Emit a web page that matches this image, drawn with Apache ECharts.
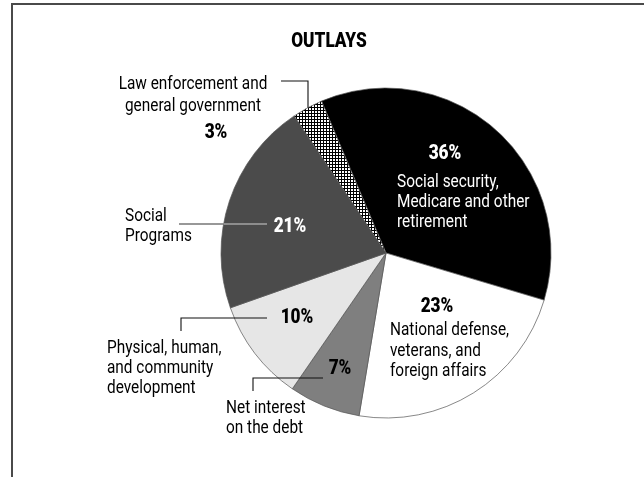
<!DOCTYPE html>
<html>
<head>
<meta charset="utf-8">
<title>Outlays</title>
<script src="https://cdn.jsdelivr.net/npm/echarts@6/dist/echarts.min.js"></script>
<style>
  html, body { margin: 0; padding: 0; background: #fff; }
  #chart { width: 644px; height: 477px; }
</style>
</head>
<body>
<div id="chart"></div>
<script>
// Budget outlays by function, share of total (percent)
const categories = [
  'Social security,\nMedicare and other\nretirement',
  'National defense,\nveterans, and\nforeign affairs',
  'Net interest\non the debt',
  'Physical, human,\nand community\ndevelopment',
  'Social\nPrograms',
  'Law enforcement and\ngeneral government'
];
const shares = [36, 23, 7, 10, 21, 3];
const title = 'OUTLAYS';

const FONT = "Roboto, 'Liberation Sans', sans-serif";
const NARROW = 0.81;      // horizontal squeeze for body text (condensed look)
const NARROW_BOLD = 0.86; // horizontal squeeze for heavy figures

// dotted fill for the small slice
function dotPattern() {
  const c = document.createElement('canvas');
  c.width = 3; c.height = 3;
  const g = c.getContext('2d');
  g.fillStyle = '#000';
  g.fillRect(0, 0, 3, 3);
  g.fillStyle = '#fff';
  g.fillRect(0, 0, 2, 2);
  return c;
}

const fills = ['#000000', '#ffffff', '#7f7f7f', '#e6e6e6', '#4b4b4b', { image: dotPattern(), repeat: 'repeat' }];
const pctColors = ['#fff', '#000', '#000', '#000', '#fff', '#000'];

// layout of the annotations
const CX = 386, CY = 253, R = 165;
const pctPos = [[445, 154], [437, 307], [340, 369], [297, 318], [290, 227], [216, 133]];
const nameBox = [
  { x: 397, y: 172, align: 'left', fill: '#fff', lh: 20 },
  { x: 390, y: 320, align: 'left', fill: '#000', lh: 20.5 },
  { x: 226, y: 398, align: 'left', fill: '#000', lh: 20 },
  { x: 107, y: 338, align: 'left', fill: '#000', lh: 20 },
  { x: 125, y: 206, align: 'left', fill: '#000', lh: 20 },
  { x: 193, y: 73, align: 'center', fill: '#000', lh: 22 }
];

function edgeX(y) { return CX - Math.sqrt(R * R - (y - CY) * (y - CY)); }
function edgeY(x) { return CY - Math.sqrt(R * R - (x - CX) * (x - CX)); }

// text squeezed horizontally about its anchor point
function squeezedText(text, x, y, opts) {
  return {
    type: 'text', z: 10, x: x, y: y, scaleX: opts.scale,
    style: {
      text: text, x: 0, y: 0,
      align: opts.align || 'left', verticalAlign: opts.valign || 'top',
      fontFamily: FONT, fontWeight: opts.weight || 'normal',
      fontSize: opts.size, lineHeight: opts.lh, fill: opts.fill || '#000'
    }
  };
}

const data = shares.map((v, i) => ({
  value: v,
  name: categories[i],
  itemStyle: { color: fills[i] }
}));

const graphics = [];
// frame
graphics.push({ type: 'polyline', shape: { points: [[12, 477], [12, 4], [644, 4]] },
  style: { stroke: '#4a4a4a', lineWidth: 2, fill: null }, z: 10 });
// title
graphics.push(squeezedText(title, 329, 42, { scale: NARROW_BOLD, align: 'center', valign: 'middle', weight: 900, size: 20 }));
// category names
categories.forEach((t, i) => {
  const b = nameBox[i];
  graphics.push(squeezedText(t, b.x, b.y, { scale: NARROW, align: b.align, size: 19, lh: b.lh, fill: b.fill }));
});
// percentage figures, from the same values as the slices
shares.forEach((v, i) => {
  const p = pctPos[i];
  graphics.push(squeezedText(v + '%', p[0], p[1], { scale: NARROW_BOLD, align: 'center', valign: 'middle', weight: 900, size: 20, fill: pctColors[i] }));
});
// leader lines
const lineStyle = { stroke: '#111', lineWidth: 1.1, fill: null };
graphics.push({ type: 'polyline', z: 9, shape: { points: [[281, 81], [308, 81], [308, edgeY(308)]] }, style: lineStyle });
const ex = edgeX(224);
graphics.push({ type: 'line', z: 9, shape: { x1: 179, y1: 224, x2: ex, y2: 224 }, style: { stroke: '#333', lineWidth: 1.1 } });
graphics.push({ type: 'line', z: 9, shape: { x1: ex, y1: 224, x2: 267, y2: 224 }, style: { stroke: '#cfcfcf', lineWidth: 1.1 } });
graphics.push({ type: 'polyline', z: 9, shape: { points: [[267, 318], [181, 318], [181, 331]] }, style: lineStyle });
graphics.push({ type: 'polyline', z: 9, shape: { points: [[323, 378], [253, 378], [253, 391]] }, style: lineStyle });

const chart = echarts.init(document.getElementById('chart'), null, { renderer: 'canvas' });
chart.setOption({
  backgroundColor: '#fff',
  animation: false,
  series: [{
    type: 'pie',
    center: [CX, CY],
    radius: [0, R],
    startAngle: 113,
    clockwise: true,
    silent: true,
    itemStyle: { borderColor: '#555', borderWidth: 0.7 },
    label: { show: false },
    labelLine: { show: false },
    data: data
  }],
  graphic: graphics
});
</script>
</body>
</html>
